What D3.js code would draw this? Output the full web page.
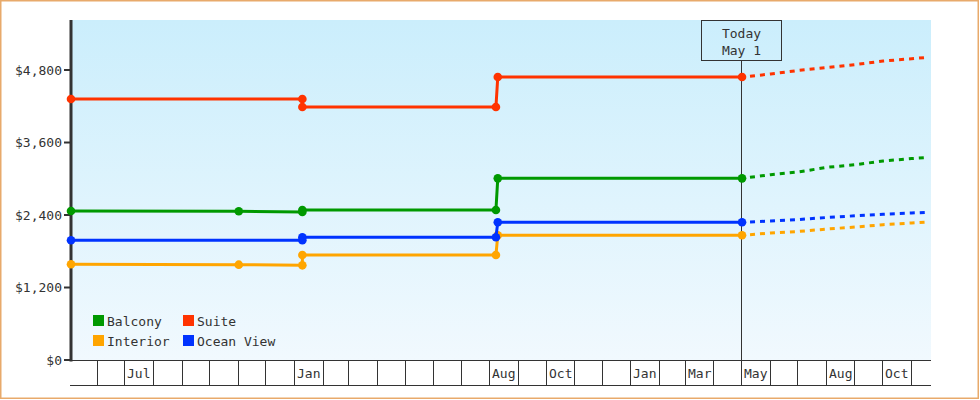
<!DOCTYPE html>
<html>
<head>
<meta charset="utf-8">
<script src="https://cdn.jsdelivr.net/npm/d3@7"></script>
<style>
  html, body { margin: 0; padding: 0; background: #fff; }
  svg { display: block; }
  text { font-family: "DejaVu Sans Mono", monospace; font-size: 13px; fill: #333; }
</style>
</head>
<body>
<svg id="chart" width="980" height="400"></svg>
<script>
// ---------- data ----------
const seriesNames = ["Balcony", "Suite", "Interior", "Ocean View"];
const seriesColors = ["#009900", "#ff3300", "#ffa500", "#0033ff"];

const historyDates = ["2017-05-03", "2017-11-01", "2018-01-09", "2018-01-09", "2018-08-07", "2018-08-09", "2019-05-01"];
const balcony   = [2466, 2462, 2450, 2483, 2483, 3007, 3007];
const suite     = [4320, null, 4320, 4188, 4188, 4684, 4684];
const interior  = [1584, 1578, 1567, 1738, 1738, 2064, 2064];
const oceanView = [1981, null, 1981, 2031, 2031, 2279, 2279];

const forecastDates = ["2019-05-01", "2019-06-01", "2019-07-01", "2019-08-01", "2019-09-01", "2019-10-01", "2019-11-01", "2019-11-19"];
const balconyForecast   = [3007, 3067, 3112, 3189, 3233, 3294, 3335, 3352];
const suiteForecast     = [4684, 4734, 4792, 4841, 4891, 4949, 4987, 5010];
const interiorForecast  = [2064, 2102, 2127, 2168, 2201, 2240, 2268, 2284];
const oceanViewForecast = [2279, 2301, 2325, 2359, 2387, 2412, 2433, 2446];

const xDomain = ["2017-05-03", "2019-11-22"];
const yMax = 5628;
const yTicks = [0, 1200, 2400, 3600, 4800];
const monthLabels = ["2017-07", "2018-01", "2018-08", "2018-10", "2019-01", "2019-03", "2019-05", "2019-08", "2019-10"];
const todayDate = "2019-05-01";
const todayLines = ["Today", "May 1"];

// ---------- build ----------
(function () {
const parse = d3.timeParse("%Y-%m-%d");
const parseMonth = d3.timeParse("%Y-%m");
const histValues = [balcony, suite, interior, oceanView];
const foreValues = [balconyForecast, suiteForecast, interiorForecast, oceanViewForecast];

const series = seriesNames.map((name, i) => ({
  name, color: seriesColors[i],
  hist: historyDates.map((d, j) => ({date: parse(d), value: histValues[i][j]})).filter(p => p.value != null),
  fore: forecastDates.map((d, j) => ({date: parse(d), value: foreValues[i][j]}))
}));

const svg = d3.select("#chart");
const pLeft = 71, pRight = 931, pTop = 20, pBottom = 360;

const x = d3.scaleTime().domain(xDomain.map(parse)).range([pLeft, pRight]);
const y = d3.scaleLinear().domain([0, yMax]).range([pBottom, pTop]);

// border
svg.append("rect").attr("x", 0.75).attr("y", 0.75).attr("width", 977.5).attr("height", 397.5)
  .attr("fill", "#fff").attr("stroke", "#e8aa6b").attr("stroke-width", 1.5);

// background gradient
const defs = svg.append("defs");
const grad = defs.append("linearGradient").attr("id", "bg").attr("x1", 0).attr("y1", 0).attr("x2", 0).attr("y2", 1);
grad.append("stop").attr("offset", "0%").attr("stop-color", "#cbeefc");
grad.append("stop").attr("offset", "100%").attr("stop-color", "#f1f9fe");
svg.append("rect").attr("x", pLeft).attr("y", pTop).attr("width", pRight - pLeft).attr("height", pBottom - pTop)
  .attr("fill", "url(#bg)");

// x band (month ticks)
const months = d3.timeMonth.range(d3.timeMonth.ceil(x.domain()[0]), x.domain()[1]);
const band = svg.append("g");
band.append("line").attr("x1", pLeft).attr("x2", pRight).attr("y1", pBottom + 0.5).attr("y2", pBottom + 0.5)
  .attr("stroke", "#333").attr("stroke-width", 1);
band.append("line").attr("x1", pLeft - 1).attr("x2", pRight).attr("y1", 385.5).attr("y2", 385.5)
  .attr("stroke", "#333").attr("stroke-width", 1);
band.selectAll("line.tick").data(months).enter().append("line").attr("class", "tick")
  .attr("x1", d => Math.round(x(d)) - 0.5).attr("x2", d => Math.round(x(d)) - 0.5)
  .attr("y1", pBottom).attr("y2", 385.5).attr("stroke", "#333").attr("stroke-width", 1);
const fmt = d3.timeFormat("%b");
band.selectAll("text").data(monthLabels.map(parseMonth)).enter().append("text")
  .attr("x", d => Math.round(x(d)) + 2).attr("y", 378).text(d => fmt(d));

// y axis
const yAxis = svg.append("g");
yAxis.selectAll("line.tick").data(yTicks).enter().append("line")
  .attr("x1", 64).attr("x2", pLeft).attr("y1", d => y(d)).attr("y2", d => y(d))
  .attr("stroke", "#333").attr("stroke-width", 2);
yAxis.selectAll("text").data(yTicks).enter().append("text")
  .attr("x", 62).attr("y", d => y(d)).attr("dy", "0.36em").attr("text-anchor", "end")
  .text(d => "$" + d3.format(",")(d));
yAxis.append("line").attr("x1", pLeft).attr("x2", pLeft).attr("y1", pTop).attr("y2", pBottom + 1.5)
  .attr("stroke", "#333").attr("stroke-width", 3);

// today marker
const tx = Math.round(x(parse(todayDate))) - 0.5;
svg.append("line").attr("x1", tx).attr("x2", tx).attr("y1", 60).attr("y2", pBottom)
  .attr("stroke", "#333").attr("stroke-width", 1);
svg.append("rect").attr("x", tx - 40).attr("y", 20.5).attr("width", 80).attr("height", 40)
  .attr("fill", "none").attr("stroke", "#333").attr("stroke-width", 1);
svg.selectAll("text.today").data(todayLines).enter().append("text").attr("class", "today")
  .attr("x", tx).attr("y", (d, i) => 38 + i * 17).attr("text-anchor", "middle").text(d => d);

// lines
const line = d3.line().x(d => x(d.date)).y(d => y(d.value));
const g = svg.append("g");
series.forEach(s => {
  g.append("path").attr("d", line(s.fore)).attr("fill", "none").attr("stroke", s.color)
    .attr("stroke-width", 3).attr("stroke-dasharray", "5,5").attr("stroke-dashoffset", -8);
});
series.forEach(s => {
  g.append("path").attr("d", line(s.hist)).attr("fill", "none").attr("stroke", s.color)
    .attr("stroke-width", 3).attr("stroke-linejoin", "round");
  g.selectAll(null).data(s.hist).enter().append("circle")
    .attr("cx", d => x(d.date)).attr("cy", d => y(d.value)).attr("r", 4.3).attr("fill", s.color);
});

// legend
const legend = svg.append("g");
seriesNames.forEach((name, i) => {
  const col = i % 2, row = Math.floor(i / 2);
  const lx = 93 + col * 90, ly = 315 + row * 20;
  legend.append("rect").attr("x", lx).attr("y", ly).attr("width", 11).attr("height", 11).attr("fill", seriesColors[i]);
  legend.append("text").attr("x", lx + 14).attr("y", ly + 11).text(name);
});
})();
</script>
</body>
</html>
